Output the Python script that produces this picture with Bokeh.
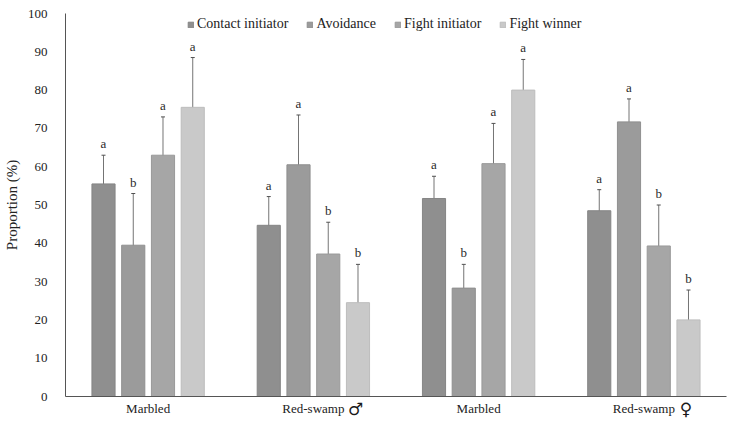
from bokeh.plotting import figure
from bokeh.models import ColumnDataSource, Whisker, Range1d, FixedTicker, Legend, LegendItem, TeeHead, LinearAxis
from bokeh.core.properties import value
from bokeh.embed import file_html
from bokeh.resources import INLINE

# Groups along the x axis (species name, sex symbol)
groups = ["Marbled", "Red-swamp", "Marbled", "Red-swamp"]
sex_marks = ["", "\u2642", "", "\u2640"]

# Behaviour series: mean proportion (%), error bar lower / upper, significance letters
series = ["Contact initiator", "Avoidance", "Fight initiator", "Fight winner"]
contact_mean = [55.5, 44.7, 51.7, 48.5]
contact_low = [48.0, 37.5, 46.0, 43.0]
contact_high = [63.0, 52.2, 57.5, 54.0]
contact_letters = ["a", "a", "a", "a"]

avoid_mean = [39.5, 60.5, 28.3, 71.7]
avoid_low = [27.0, 47.5, 22.8, 66.0]
avoid_high = [53.0, 73.5, 34.5, 77.7]
avoid_letters = ["b", "a", "b", "a"]

fight_mean = [63.0, 37.2, 60.8, 39.3]
fight_low = [53.0, 29.0, 50.3, 29.0]
fight_high = [73.0, 45.5, 71.3, 50.0]
fight_letters = ["a", "b", "a", "b"]

winner_mean = [75.5, 24.5, 80.0, 20.0]
winner_low = [63.0, 14.7, 72.5, 12.5]
winner_high = [88.5, 34.5, 88.0, 27.8]
winner_letters = ["a", "b", "a", "b"]

y_ticks = [0, 10, 20, 30, 40, 50, 60, 70, 80, 90, 100]

means = [contact_mean, avoid_mean, fight_mean, winner_mean]
lows = [contact_low, avoid_low, fight_low, winner_low]
highs = [contact_high, avoid_high, fight_high, winner_high]
letters = [contact_letters, avoid_letters, fight_letters, winner_letters]
colors = ["#8f8f8f", "#9b9b9b", "#a6a6a6", "#c9c9c9"]
edges = ["#858585", "#8f8f8f", "#999999", "#bdbdbd"]
offsets = [-0.27, -0.09, 0.09, 0.27]
bar_width = 0.14
mark_shift = 0.255

FONT = "Liberation Serif"

p = figure(width=731, height=427, output_backend="svg", toolbar_location=None,
           x_range=Range1d(0, 4), y_range=Range1d(0, 100),
           min_border_left=62, min_border_right=5, min_border_top=13, min_border_bottom=31)
p.outline_line_color = None
p.xgrid.grid_line_color = None
p.ygrid.grid_line_color = None
p.background_fill_color = "white"
p.border_fill_color = "white"

legend_items = []
for k in range(4):
    xs = [i + 0.5 + offsets[k] for i in range(len(groups))]
    src = ColumnDataSource(dict(x=xs, top=means[k], lo=lows[k], hi=highs[k], lab=letters[k]))
    r = p.vbar(x="x", top="top", width=bar_width, bottom=0, source=src,
               fill_color=colors[k], line_color=edges[k], line_width=1)
    legend_items.append(LegendItem(label=series[k], renderers=[r]))
    w = Whisker(base="x", upper="hi", lower="lo", source=src, line_color="#505050", line_width=0.8,
                upper_head=TeeHead(size=4, line_color="#505050", line_width=1),
                lower_head=TeeHead(size=4, line_color="#505050", line_width=1))
    p.add_layout(w)
    p.text(x="x", y="hi", text="lab", source=src, text_align="center", text_baseline="bottom",
           y_offset=-4, text_font_size="13px", text_color="#2a2a2a", text_font=value(FONT))

legend = Legend(items=legend_items, orientation="horizontal", location=(122, 364),
                glyph_width=7, glyph_height=7, label_standoff=3, spacing=18, padding=0, margin=0,
                label_text_font=FONT, label_text_font_size="14px", label_text_color="#222222",
                background_fill_alpha=0, border_line_color=None)
p.add_layout(legend, "center")

p.yaxis.ticker = FixedTicker(ticks=y_ticks)
p.yaxis.axis_label = "Proportion (%)"
p.yaxis.axis_label_text_font = FONT
p.yaxis.axis_label_text_font_style = "normal"
p.yaxis.axis_label_text_font_size = "15px"
p.yaxis.axis_label_text_color = "#222222"
p.yaxis.major_label_text_font = FONT
p.yaxis.major_label_text_font_size = "13px"
p.yaxis.major_label_text_color = "#222222"
p.yaxis.major_tick_line_color = None
p.yaxis.minor_tick_line_color = None
p.yaxis.axis_line_color = "#555555"
p.yaxis.major_label_standoff = 12

p.xaxis.ticker = FixedTicker(ticks=[i + 0.5 for i in range(len(groups))])
p.xaxis.major_label_overrides = {i + 0.5: g for i, g in enumerate(groups)}
p.xaxis.major_label_text_font = FONT
p.xaxis.major_label_text_font_size = "13px"
p.xaxis.major_label_text_color = "#222222"
p.xaxis.major_tick_line_color = None
p.xaxis.minor_tick_line_color = None
p.xaxis.axis_line_color = "#555555"
p.xaxis.major_tick_out = 0
p.xaxis.major_label_standoff = 4

# Second label row holding the sex symbols, pulled up beside the species names
mark_ticks = [i + 0.5 + mark_shift for i, m in enumerate(sex_marks) if m]
mark_axis = LinearAxis(ticker=FixedTicker(ticks=mark_ticks),
                       major_label_overrides={i + 0.5 + mark_shift: m for i, m in enumerate(sex_marks) if m},
                       axis_line_color=None, major_tick_line_color=None, minor_tick_line_color=None,
                       major_tick_out=0, major_label_standoff=-20, major_label_text_font="DejaVu Sans",
                       major_label_text_font_size="17px", major_label_text_font_style="bold",
                       major_label_text_color="#1a1a1a")
p.add_layout(mark_axis, "below")

open("out.html", "w").write(file_html(p, INLINE))
